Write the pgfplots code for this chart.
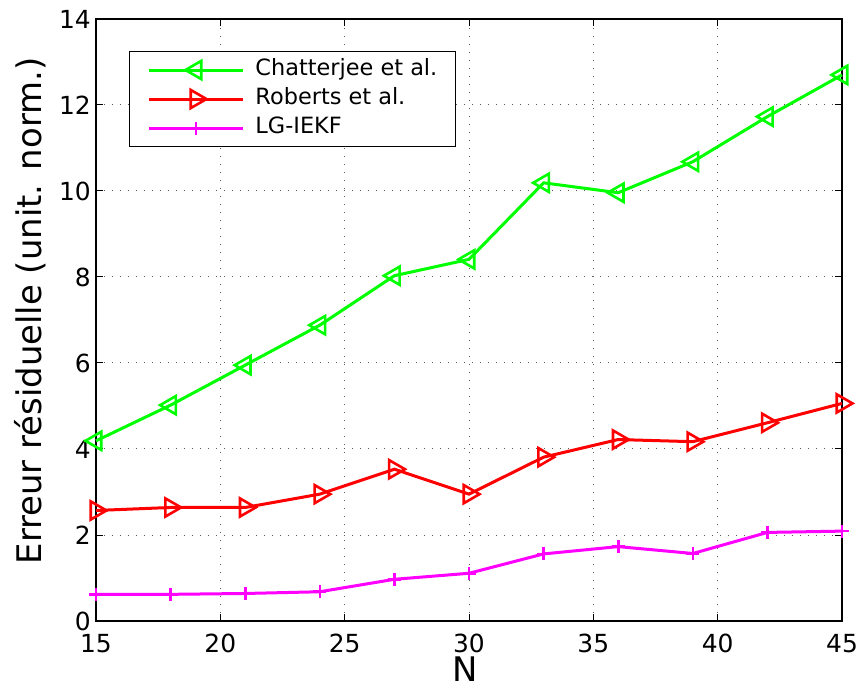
\documentclass[border=0pt]{standalone}
\usepackage{fontspec}
\setmainfont{DejaVu Sans}
\usepackage{pgfplots}
\pgfplotsset{compat=1.18}
\definecolor{mgreen}{RGB}{0,255,0}
\definecolor{mred}{RGB}{255,0,0}
\definecolor{mmag}{RGB}{255,0,255}
\begin{document}
\begin{tikzpicture}
\begin{axis}[
  scale only axis,
  width=746bp, height=602bp,
  xmin=15, xmax=45, ymin=0, ymax=14,
  xtick={15,20,...,45}, ytick={0,2,...,14},
  /pgf/number format/assume math mode=true,
  tick label style={font=\fontsize{25}{25}\selectfont, inner sep=0pt},
  xticklabel style={anchor=north, yshift=-13bp},
  yticklabel style={anchor=east, xshift=-5bp},
  tick align=inside, tick pos=both,
  major tick length=7bp,
  axis line style={line width=1.2bp},
  every tick/.style={line width=1bp, black},
  grid=major,
  grid style={line width=1bp, black!65, dash pattern=on 1.2bp off 6.8bp},
  xlabel={N}, ylabel={Erreur résiduelle (unit. norm.)},
  label style={font=\fontsize{34}{34}\selectfont},
  xlabel style={at={(axis description cs:0.4946,-0.101)}, anchor=base},
  ylabel style={at={(axis description cs:-0.0724,0.515)}, anchor=base},
  clip=false,
  legend cell align=left,
  legend style={at={(axis description cs:0.0442,0.9468)}, anchor=north west,
    font=\fontsize{22.5}{22.5}\selectfont, draw=black, line width=1bp,
    nodes={inner sep=0pt, text height=16bp, text depth=5bp},
    inner xsep=18bp, inner ysep=8bp, row sep=8bp, column sep=11bp},
  legend image code/.code={\draw[mark repeat=2,mark phase=2,#1,line width=3bp] plot coordinates {(0bp,0bp)(47bp,0bp)(94bp,0bp)};},
]
\addplot[mgreen, line width=3bp, mark=triangle, mark size=10.5bp, mark options={rotate=90, line width=2.6bp}] coordinates {
(15,4.19)(18,5.02)(21,5.95)(24,6.88)(27,8.03)(30,8.41)(33,10.19)(36,9.96)(39,10.68)(42,11.73)(45,12.70)};
\addlegendentry{Chatterjee et al.\hspace{116bp}}
\addplot[mred, line width=3bp, mark=triangle, mark size=10.5bp, mark options={rotate=-90, line width=2.6bp}] coordinates {
(15,2.57)(18,2.64)(21,2.64)(24,2.95)(27,3.53)(30,2.95)(33,3.81)(36,4.22)(39,4.17)(42,4.61)(45,5.06)};
\addlegendentry{Roberts et al.}
\addplot[mmag, line width=3bp, mark=+, mark size=6.5bp, mark options={line width=2.6bp}] coordinates {
(15,0.62)(18,0.62)(21,0.64)(24,0.68)(27,0.97)(30,1.11)(33,1.56)(36,1.73)(39,1.57)(42,2.06)(45,2.09)};
\addlegendentry{LG-IEKF}
\end{axis}
\pgfresetboundingbox
\path (-96bp,-63bp) rectangle (764bp,621bp);
\end{tikzpicture}
\end{document}
